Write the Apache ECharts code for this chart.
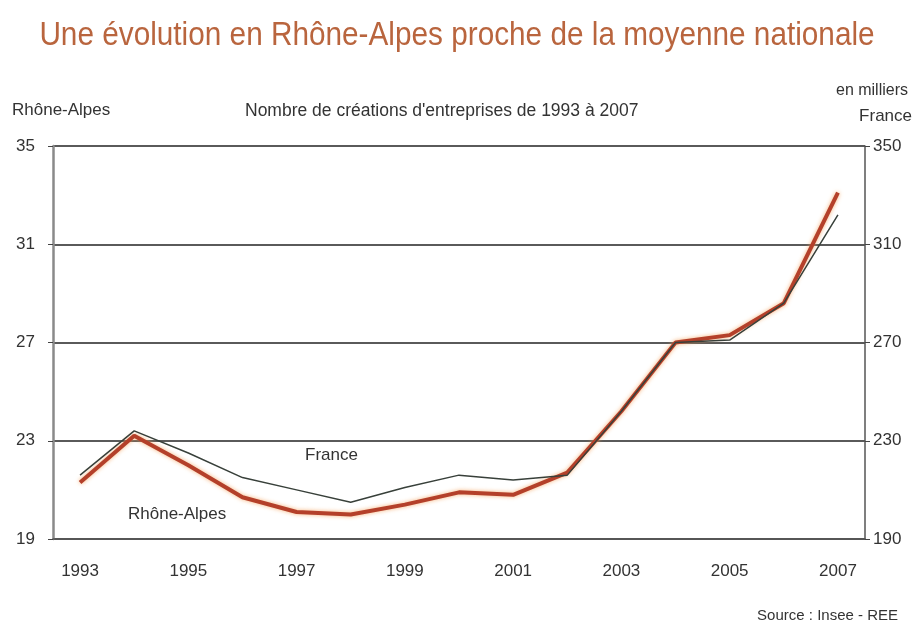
<!DOCTYPE html>
<html>
<head>
<meta charset="utf-8">
<script src="https://cdn.jsdelivr.net/npm/echarts@6/dist/echarts.min.js"></script>
<style>
  html, body { margin: 0; padding: 0; background: #fff; }
  #chart { width: 914px; height: 628px; }
</style>
</head>
<body>
<div id="chart"></div>
<script>
// données (en milliers)
const years = ['1993', '1994', '1995', '1996', '1997', '1998', '1999', '2000',
  '2001', '2002', '2003', '2004', '2005', '2006', '2007'];
const rhoneAlpes = [21.3, 23.2, 22.0, 20.7, 20.1, 20.0, 20.4, 20.9, 20.8, 21.7, 24.2, 27.0, 27.3, 28.6, 33.1];
const france = [216, 234, 225, 215, 210, 205, 211, 216, 214, 216, 242, 270, 271, 286, 322];
const leftTicks = [19, 35, 4];   // min, max, pas
const rightTicks = [190, 350, 40];

const font = '"Liberation Sans", Arial, sans-serif';

(function () {
  let myChart = echarts.init(document.getElementById('chart'));

  let option = {
    animation: false,
    textStyle: { fontFamily: font },
    grid: { left: 53, right: 49, top: 146, bottom: 89 },
    xAxis: {
      type: 'category',
      data: years,
      boundaryGap: true,
      axisLine: { lineStyle: { color: '#555', width: 1.5 } },
      axisTick: { interval: 0, length: 5, lineStyle: { color: '#444' } },
      axisLabel: { interval: 1, margin: 24, fontSize: 17, color: '#333', fontFamily: font }
    },
    yAxis: [
      {
        type: 'value',
        min: leftTicks[0], max: leftTicks[1], interval: leftTicks[2],
        position: 'left',
        axisLine: { show: true, lineStyle: { color: '#8a8a8a', width: 2.5 } },
        axisTick: { show: true, length: 5, lineStyle: { color: '#444' } },
        axisLabel: { margin: 18, fontSize: 17, color: '#333', fontFamily: font },
        splitLine: { lineStyle: { color: '#5a5a5a', width: 1.8 } }
      },
      {
        type: 'value',
        min: rightTicks[0], max: rightTicks[1], interval: rightTicks[2],
        position: 'right',
        axisLine: { show: true, lineStyle: { color: '#555', width: 1.5 } },
        axisTick: { show: true, length: 5, lineStyle: { color: '#444' } },
        axisLabel: { margin: 8, fontSize: 17, color: '#333', fontFamily: font },
        splitLine: { show: false }
      }
    ],
    series: [
      {
        name: 'France',
        type: 'line',
        yAxisIndex: 1,
        data: france,
        symbol: 'none',
        z: 3,
        lineStyle: { color: '#38403a', width: 1.5 }
      },
      {
        name: 'Rhône-Alpes',
        type: 'line',
        yAxisIndex: 0,
        data: rhoneAlpes,
        symbol: 'none',
        z: 2,
        lineStyle: { color: '#b4402a', width: 4, shadowColor: 'rgba(245,160,90,0.8)', shadowBlur: 4 }
      }
    ],
    graphic: [
      // titre, un peu resserré comme dans l'original
      {
        type: 'text', x: 457, y: 19, scaleX: 0.875,
        style: {
          text: 'Une évolution en Rhône-Alpes proche de la moyenne nationale',
          textAlign: 'center', font: '34px ' + font, fill: '#b9653e'
        }
      },
      { type: 'text', left: 12, top: 102, style: { text: 'Rhône-Alpes', font: '17px ' + font, fill: '#333' } },
      { type: 'text', left: 245, top: 102, style: { text: "Nombre de créations d'entreprises de 1993 à 2007", font: '17.5px ' + font, fill: '#333' } },
      { type: 'text', right: 6, top: 83, style: { text: 'en milliers', font: '16px ' + font, fill: '#333' } },
      { type: 'text', right: 2, top: 108, style: { text: 'France', font: '17px ' + font, fill: '#333' } },
      { type: 'text', left: 305, top: 447, style: { text: 'France', font: '17px ' + font, fill: '#333' } },
      { type: 'text', left: 128, top: 506, style: { text: 'Rhône-Alpes', font: '17px ' + font, fill: '#333' } },
      { type: 'text', right: 16, top: 608, style: { text: 'Source : Insee - REE', font: '15px ' + font, fill: '#333' } }
    ]
  };

  myChart.setOption(option);
})();
</script>
</body>
</html>
